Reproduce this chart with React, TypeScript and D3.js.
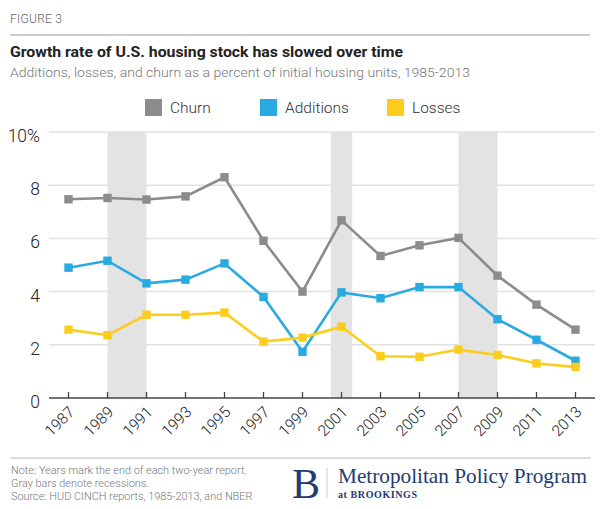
import { scaleLinear, line } from "d3";

const years = [1987, 1989, 1991, 1993, 1995, 1997, 1999, 2001, 2003, 2005, 2007, 2009, 2011, 2013];
const churn = [7.47, 7.52, 7.46, 7.58, 8.3, 5.91, 4.0, 6.68, 5.34, 5.74, 6.02, 4.6, 3.51, 2.57];
const additions = [4.9, 5.16, 4.31, 4.45, 5.06, 3.8, 1.74, 3.97, 3.75, 4.17, 4.17, 2.96, 2.19, 1.4];
const losses = [2.57, 2.36, 3.13, 3.13, 3.21, 2.12, 2.27, 2.68, 1.57, 1.55, 1.82, 1.62, 1.3, 1.17];
const recessions: [number, number][] = [
  [1989, 1991],
  [2000.45, 2001.55],
  [2007, 2009],
];
const yTicks = [0, 2, 4, 6, 8, 10];
const seriesNames = ["Churn", "Additions", "Losses"];
const colors = ["#8c8c8c", "#29abe2", "#fdcd1e"];
const notes = [
  "Note: Years mark the end of each two-year report.",
  "Gray bars denote recessions.",
  "Source: HUD CINCH reports, 1985-2013, and NBER",
];

const SANS = "Roboto, 'Open Sans', sans-serif";
const SERIF = "'Liberation Serif', 'DejaVu Serif', serif";

const x = scaleLinear().domain([1986, 2014]).range([49, 595]);
const y = scaleLinear().domain([0, 10]).range([398, 132]);

export default function App() {
  const series = [churn, additions, losses];
  const path = line<number>()
    .x((_, i) => x(years[i]))
    .y((d) => y(d));

  const legendX = [145, 260, 387];

  return (
    <svg
      width={600}
      height={509}
      style={{ position: "fixed", left: 0, top: 0, background: "#fff" }}
      fontFamily={SANS}
    >
      <rect width={600} height={509} fill="#fff" />
      {/* header */}
      <text x={10} y={23} fontSize={12} fontWeight={300} fill="#666" textLength={52}>
        FIGURE 3
      </text>
      <line x1={10} x2={590} y1={35} y2={35} stroke="#9a9ca3" strokeWidth={1.2} />
      <text x={10} y={57} fontSize={14.5} fontWeight="bold" fill="#222" textLength={393} lengthAdjust="spacingAndGlyphs">
        Growth rate of U.S. housing stock has slowed over time
      </text>
      <text x={10} y={77} fontSize={13.5} fontWeight={300} fill="#777" textLength={460} lengthAdjust="spacingAndGlyphs">
        Additions, losses, and churn as a percent of initial housing units, 1985-2013
      </text>

      {/* legend */}
      {seriesNames.map((name, i) => (
        <g key={name}>
          <rect x={legendX[i]} y={99} width={17} height={17} fill={colors[i]} />
          <text x={legendX[i] + 25} y={113} fontSize={15.5} fontWeight={300} fill="#333">
            {name}
          </text>
        </g>
      ))}

      {/* recession bands */}
      {recessions.map(([a, b], i) => (
        <rect key={i} x={x(a)} y={y(10)} width={x(b) - x(a)} height={y(0) - y(10)} fill="#e3e3e3" />
      ))}

      {/* grid + y labels */}
      {yTicks.map((t) => (
        <g key={t}>
          {t > 0 && (
            <line x1={49} x2={595} y1={y(t)} y2={y(t)} stroke="#e2e2e2" strokeWidth={1.5} />
          )}
          <text x={40} y={y(t) + 10} fontSize={17.5} fontWeight={300} fill="#222" textAnchor="end">
            {t === 10 ? "10%" : t}
          </text>
        </g>
      ))}

      {/* x axis */}
      <line x1={49} x2={595} y1={y(0)} y2={y(0)} stroke="#444" strokeWidth={1.5} />
      {years.map((yr) => (
        <g key={yr}>
          <line x1={x(yr)} x2={x(yr)} y1={y(0) - 6} y2={y(0)} stroke="#444" strokeWidth={1.3} />
          <text
            transform={`translate(${x(yr) + 7},${y(0) + 15}) rotate(-45)`}
            textAnchor="end"
            fontSize={15.5}
            fontWeight={300}
            fill="#222"
          >
            {yr}
          </text>
        </g>
      ))}

      {/* lines */}
      {series.map((s, i) => (
        <g key={seriesNames[i]}>
          <path d={path(s) ?? ""} fill="none" stroke={colors[i]} strokeWidth={2.6} />
          {s.map((v, j) => (
            <rect key={j} x={x(years[j]) - 4.2} y={y(v) - 4.2} width={8.4} height={8.4} fill={colors[i]} />
          ))}
        </g>
      ))}

      {/* footer */}
      <line x1={10} x2={591} y1={458} y2={458} stroke="#cfd1d6" strokeWidth={1.5} />
      {notes.map((n, i) => (
        <text key={i} x={11} y={474 + i * 13} fontSize={10.9} fontWeight={300} fill="#777">
          {n}
        </text>
      ))}
      <text x={292} y={498} fontFamily={SERIF} fontSize={42} fill="#233b72">
        B
      </text>
      <line x1={327} x2={327} y1={468} y2={498} stroke="#c8ccd6" strokeWidth={1} />
      <text x={338} y={483} fontFamily={SERIF} fontSize={21} fill="#233b72" textLength={249} lengthAdjust="spacingAndGlyphs">
        Metropolitan Policy Program
      </text>
      <text x={338} y={498} fontFamily={SERIF} fontSize={10} fontWeight="bold" fill="#233b72" textLength={79}>
        at BROOKINGS
      </text>
    </svg>
  );
}
